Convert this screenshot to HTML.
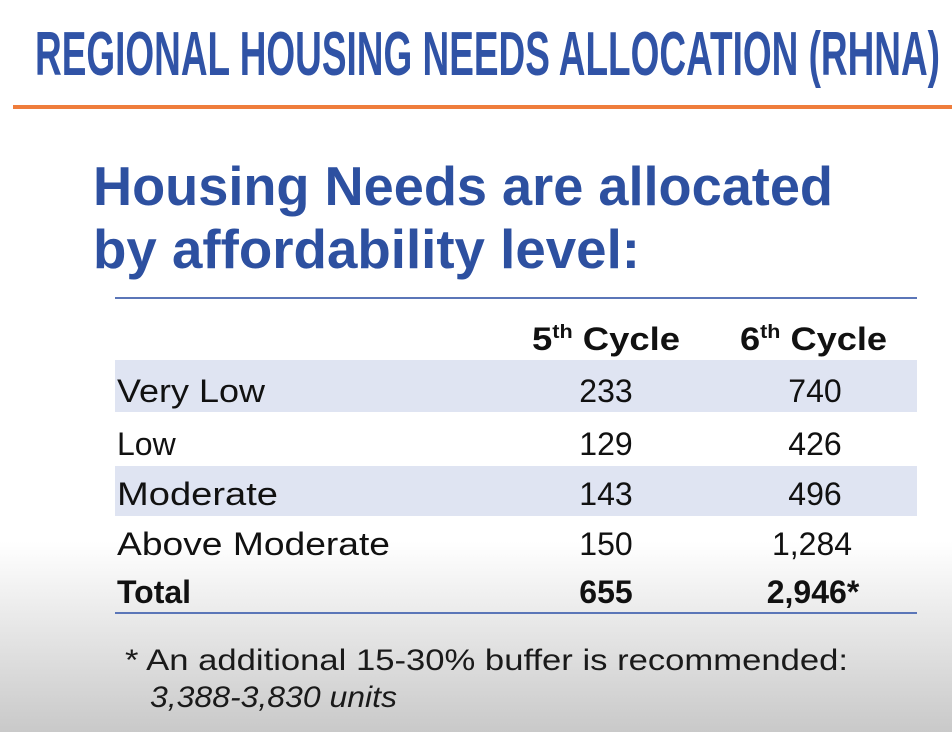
<!DOCTYPE html>
<html><head><meta charset="utf-8"><style>
html,body{margin:0;padding:0;width:952px;height:732px;overflow:hidden}
svg{display:block}
text{font-family:"Liberation Sans",sans-serif}
</style></head><body>
<svg width="952" height="732" viewBox="0 0 952 732">
<defs><linearGradient id="bg" x1="0" y1="0" x2="0" y2="1">
<stop offset="0" stop-color="#ffffff"/><stop offset="0.74" stop-color="#ffffff"/><stop offset="1" stop-color="#c9c9c9"/></linearGradient></defs>
<rect width="952" height="732" fill="url(#bg)"/>
<text x="35" y="75" font-size="62" font-weight="bold" fill="#3053a6" textLength="905" lengthAdjust="spacingAndGlyphs">REGIONAL HOUSING NEEDS ALLOCATION (RHNA)</text>
<rect x="13" y="105" width="939" height="4" fill="#ef7d3c"/>
<text x="93" y="205" font-size="55" font-weight="bold" fill="#2d50a0" textLength="740" lengthAdjust="spacingAndGlyphs">Housing Needs are allocated</text>
<text x="93" y="268" font-size="55" font-weight="bold" fill="#2d50a0" textLength="547" lengthAdjust="spacingAndGlyphs">by affordability level:</text>
<g>
<rect x="115" y="297" width="802" height="2" fill="#5b76b8"/>
<rect x="115" y="360" width="802" height="52" fill="#dfe4f2"/>
<rect x="115" y="466" width="802" height="50" fill="#dfe4f2"/>
<rect x="115" y="612" width="802" height="2" fill="#5b76b8"/>
<text x="532" y="350" font-size="32" font-weight="bold" fill="#111" textLength="148" lengthAdjust="spacingAndGlyphs">5<tspan font-size="19" dy="-12">th</tspan><tspan dy="12"> Cycle</tspan></text>
<text x="740" y="350" font-size="32" font-weight="bold" fill="#111" textLength="147" lengthAdjust="spacingAndGlyphs">6<tspan font-size="19" dy="-12">th</tspan><tspan dy="12"> Cycle</tspan></text>
<g font-size="32" fill="#111">
<text x="117" y="402" textLength="148" lengthAdjust="spacingAndGlyphs">Very Low</text>
<text x="606" y="402" text-anchor="middle">233</text>
<text x="815" y="402" text-anchor="middle">740</text>
<text x="117" y="455">Low</text>
<text x="606" y="455" text-anchor="middle">129</text>
<text x="815" y="455" text-anchor="middle">426</text>
<text x="117" y="505" textLength="161" lengthAdjust="spacingAndGlyphs">Moderate</text>
<text x="606" y="505" text-anchor="middle">143</text>
<text x="815" y="505" text-anchor="middle">496</text>
<text x="117" y="555" textLength="273" lengthAdjust="spacingAndGlyphs">Above Moderate</text>
<text x="606" y="555" text-anchor="middle">150</text>
<text x="812" y="555" text-anchor="middle">1,284</text>
<text x="117" y="603" font-weight="bold">Total</text>
<text x="606" y="603" text-anchor="middle" font-weight="bold">655</text>
<text x="813" y="603" text-anchor="middle" font-weight="bold">2,946*</text>
</g>
</g>
<text x="125" y="670" font-size="30" fill="#1a1a1a" textLength="723" lengthAdjust="spacingAndGlyphs">* An additional 15-30% buffer is recommended:</text>
<text x="150" y="707" font-size="30" font-style="italic" fill="#1a1a1a" textLength="247" lengthAdjust="spacingAndGlyphs">3,388-3,830 units</text>
</svg>
</body></html>
